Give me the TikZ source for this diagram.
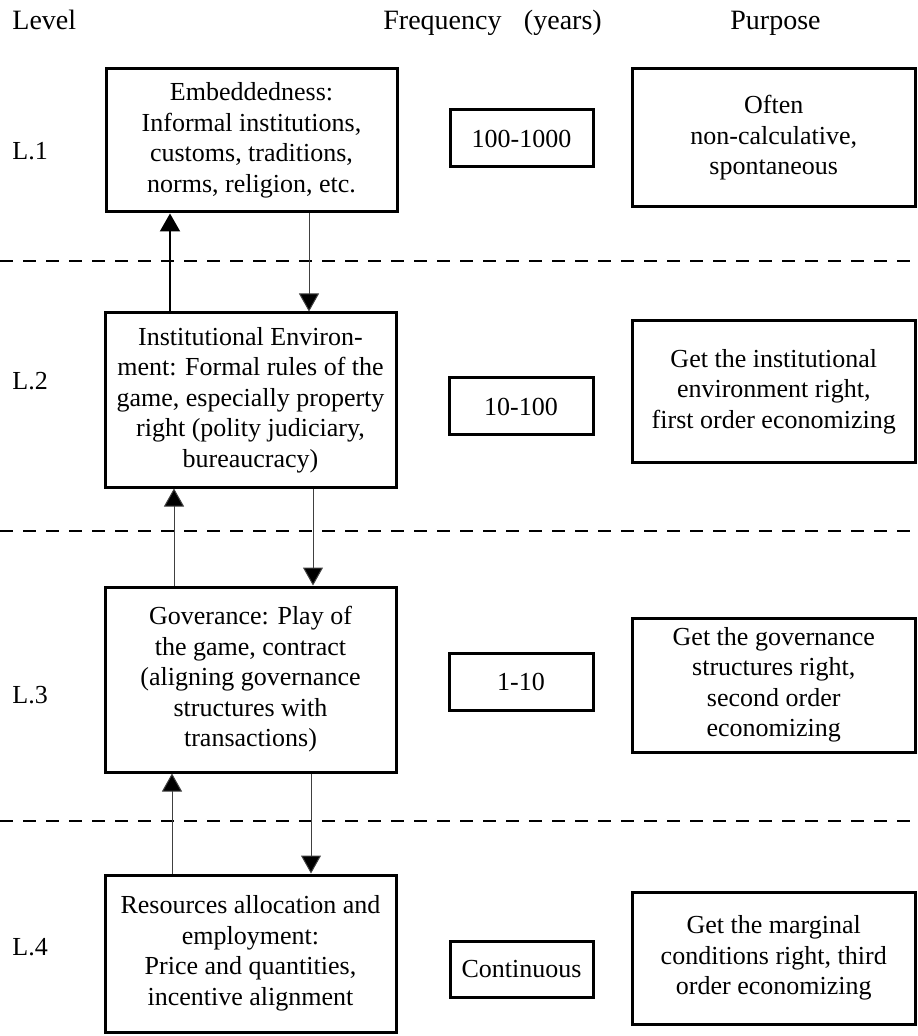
\documentclass[tikz,border=0pt]{standalone}
\usepackage{fontspec}
\setmainfont{Liberation Serif}
\usetikzlibrary{arrows.meta}
\tikzset{
  box/.style={draw=black, line width=1.5pt, align=center, inner sep=0pt,
    font=\fontsize{13pt}{15.25pt}\selectfont},
  head/.style={anchor=base west, inner sep=0pt, font=\fontsize{14pt}{16pt}\selectfont},
  lvl/.style={anchor=base west, inner sep=0pt, font=\fontsize{13pt}{15pt}\selectfont},
  sep/.style={line width=1.25pt, dash pattern=on 6.5pt off 5pt},
  uparr/.style={line width=0.5pt, draw=black!75, -{Triangle[width=10pt,length=9pt,fill=black]}},
  uparrthick/.style={line width=1pt, draw=black, -{Triangle[width=10pt,length=9pt,fill=black]}},
}
\begin{document}
\begin{tikzpicture}[x=0.5pt,y=-0.5pt]
\useasboundingbox (0,0) rectangle (917,1036);
% headers
\node[head] (hl) at (12,30) {Level};
\node[head] (hf) at (383,30) {Frequency\hspace{0.8em}(years)};
\node[head] (hp) at (730,30) {Purpose};
% level labels
\node[lvl] (l1) at (12,160) {L.1};
\node[lvl] (l2) at (12,390) {L.2};
\node[lvl] (l3) at (12,703) {L.3};
\node[lvl] (l4) at (12,955) {L.4};
% separators
\coordinate (s1a) at (0,261); \coordinate (s1b) at (917,261);
\coordinate (s2a) at (0,531); \coordinate (s2b) at (917,531);
\coordinate (s3a) at (0,821); \coordinate (s3b) at (917,821);
\draw[sep] (s1a) -- (s1b);
\draw[sep] (s2a) -- (s2b);
\draw[sep] (s3a) -- (s3b);
% level boxes
\node[box, minimum width=145.5pt, minimum height=71.5pt] (b1) at (251.5,140.5)
  {Embeddedness:\\Informal institutions,\\customs, traditions,\\norms, religion, etc.};
\node[box, minimum width=145.5pt, minimum height=87pt] (b2) at (250.5,400)
  {Institutional Environ-\\ment: Formal rules of the\\game, especially property\\right (polity judiciary,\\bureaucracy)};
\node[box, minimum width=145.5pt, minimum height=92.5pt] (b3) at (250.5,679.5)
  {Goverance: Play of\\the game, contract\\(aligning governance\\structures with\\transactions)};
\node[box, minimum width=145.5pt, minimum height=78.5pt] (b4) at (250.5,953.5)
  {Resources allocation and\\employment:\\Price and quantities,\\incentive alignment};
% frequency boxes
\node[box, minimum width=71.5pt, minimum height=28.5pt] (f1) at (521.5,138.5) {100-1000};
\node[box, minimum width=72pt, minimum height=28.5pt] (f2) at (521,406.5) {10-100};
\node[box, minimum width=72pt, minimum height=28.5pt] (f3) at (521,681.5) {1-10};
\node[box, minimum width=71.5pt, minimum height=28pt] (f4) at (521.5,969) {Continuous};
% purpose boxes
\node[box, minimum width=141.75pt, minimum height=69pt] (p1) at (773.75,138)
  {Often\\non-calculative,\\spontaneous};
\node[box, minimum width=141.75pt, minimum height=70.5pt] (p2) at (773.75,391.5)
  {Get the institutional\\environment right,\\first order economizing};
\node[box, minimum width=141.75pt, minimum height=67pt] (p3) at (773.75,685)
  {Get the governance\\structures right,\\second order\\economizing};
\node[box, minimum width=141.75pt, minimum height=66pt] (p4) at (773.75,958)
  {Get the marginal\\conditions right, third\\order economizing};
% arrow x positions
\coordinate (u1) at (170,0); \coordinate (d1) at (309,0);
\coordinate (u2) at (174,0); \coordinate (d2) at (313,0);
\coordinate (u3) at (172,0); \coordinate (d3) at (311,0);
\draw[uparrthick] (u1 |- b2.north) -- (u1 |- b1.south);
\draw[uparr] (d1 |- b1.south) -- (d1 |- b2.north);
\draw[uparr] (u2 |- b3.north) -- (u2 |- b2.south);
\draw[uparr] (d2 |- b2.south) -- (d2 |- b3.north);
\draw[uparr] (u3 |- b4.north) -- (u3 |- b3.south);
\draw[uparr] (d3 |- b3.south) -- (d3 |- b4.north);
\end{tikzpicture}
\end{document}
